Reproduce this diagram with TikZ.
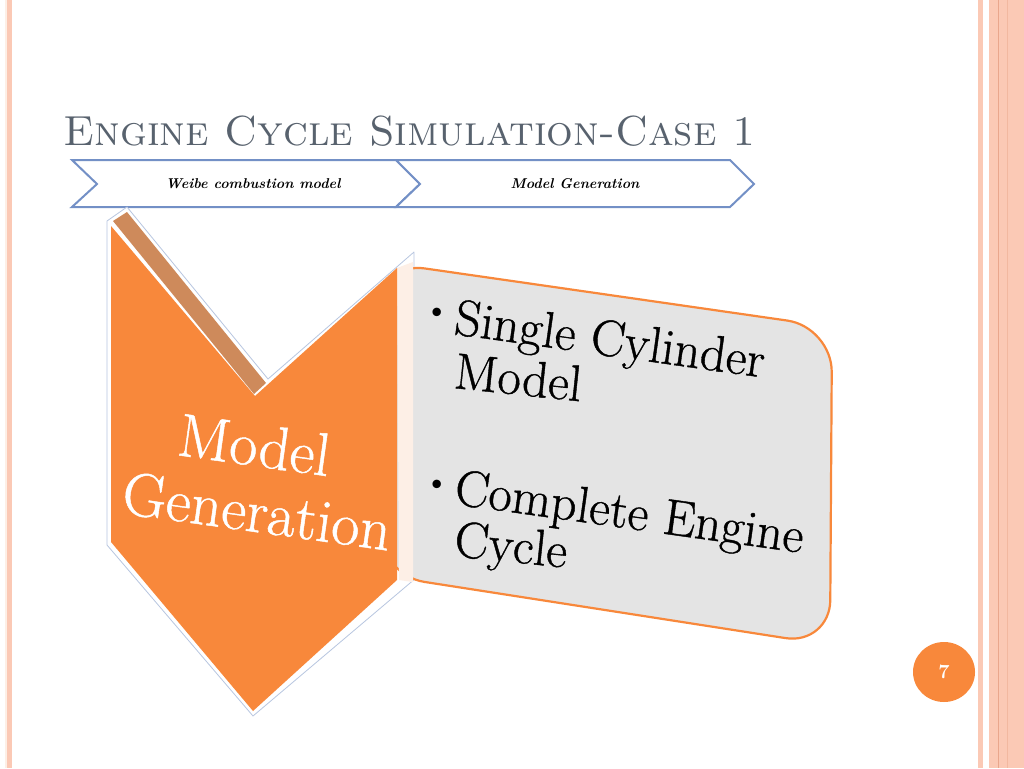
\documentclass[tikz,border=0pt]{standalone}
\usepackage{fontspec}
\newfontfamily\heavyrm{Latin Modern Roman}[FakeBold=0.8]
\usetikzlibrary{calc}
\definecolor{orng}{HTML}{F8883B}
\definecolor{brwn}{HTML}{CE8A5B}
\definecolor{chevblue}{HTML}{7390C6}
\definecolor{titlegray}{HTML}{58626E}
\definecolor{boxgray}{HTML}{E4E4E4}
\definecolor{peach}{HTML}{FDEFE6}
\definecolor{pink}{HTML}{FBC9B5}
\definecolor{pinkdark}{HTML}{E9A68C}
\definecolor{outl}{HTML}{B8C6E0}
\tikzset{
  chev/.style={draw=chevblue, line width=2pt, fill=white, line join=miter},
  chevtext/.style={font=\fontsize{14.2}{16}\selectfont\bfseries\itshape, text=black},
  bigtext/.style={font=\fontsize{51}{54}\selectfont\heavyrm, text=black, inner sep=0pt, rotate=-8, anchor=base west},
  wtext/.style={font=\fontsize{61}{64}\selectfont\heavyrm, text=white, inner sep=0pt, rotate=-8, anchor=base west},
  bul/.style={font=\fontsize{38}{38}\selectfont, text=black, inner sep=0pt}
}
\begin{document}
\begin{tikzpicture}[x=1pt,y=-1pt]
\useasboundingbox (0,0) rectangle (1024,768);
\fill[white] (0,0) rectangle (1024,768);
% side stripes
\fill[peach] (5,0) rectangle (7,768);
\fill[pink] (7,0) rectangle (12,768);
\fill[pink] (978,0) rectangle (983,768);
\fill[pink] (989,0) rectangle (1024,768);
\draw[pinkdark, line width=1pt] (998,0) -- (998,768);
\draw[pinkdark!50!pink, line width=0.8pt] (1007,0) -- (1007,768);
% title
\node[anchor=base west, inner sep=0pt, text=titlegray, font=\fontsize{42}{46}\selectfont\scshape] (title) at (63,145) {Engine Cycle Simulation-Case 1};
% top chevrons
\draw[chev] (72,160) -- (396,160) -- (420,184) -- (396,207) -- (72,207) -- (97,184) -- cycle;
\draw[chev] (396,160) -- (730,160) -- (754,184) -- (730,207) -- (396,207) -- (420,184) -- cycle;
\node[chevtext] (ch1) at (253,184) {Weibe combustion model};
\node[chevtext] (ch2) at (575,184) {Model Generation};
% outline of the big chevron
\draw[outl, fill=white, line width=0.8pt, line join=round] (107,221) -- (127,207) -- (268,379) -- (414,252) -- (416,578) -- (253,716) -- (107,545) -- cycle;
% gray box
\draw[orng, fill=boxgray, line width=2.2pt, rounded corners=45] (380,262) -- (832,327) -- (830,645) -- (380,575) -- cycle;
% peach side strip
\fill[peach] (397,268) -- (413,262) -- (413,582) -- (399,580) -- cycle;
% orange chevron
\fill[orng] (111,226) -- (255,396) -- (397,268) -- (397,580) -- (253,711) -- (111,542) -- cycle;
% brown bar
\fill[brwn] (113,221) -- (127,212) -- (266,383) -- (254,394) -- cycle;
% texts in chevron
\node[wtext] (m1) at (176,455) {Model};
\node[wtext] (m2) at (120,513) {Generation};
% texts in box
\node[bul] (b1) at (437,315) {\textbullet};
\node[bigtext] (t1) at (453,334) {Single Cylinder};
\node[bigtext, rotate=2] (t2) at (453,388) {Model};
\node[bul] (b2) at (437,487) {\textbullet};
\node[bigtext] (t3) at (453,504) {Complete Engine};
\node[bigtext, rotate=2] (t4) at (453,556) {Cycle};
% page number
\fill[orng] (944,672) ellipse [x radius=31, y radius=30];
\node[text=white, font=\fontsize{20}{20}\selectfont\bfseries] (pg) at (944,672) {7};
\end{tikzpicture}
\end{document}
